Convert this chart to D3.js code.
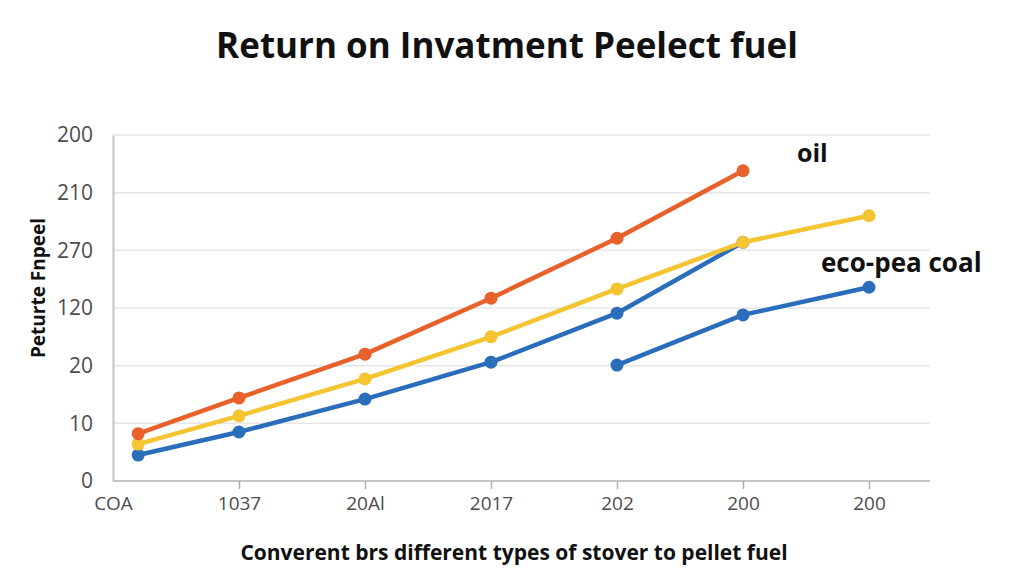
<!DOCTYPE html>
<html>
<head>
<meta charset="utf-8">
<script src="https://cdn.jsdelivr.net/npm/d3@7"></script>
<style>
  body { margin: 0; background: #fff; }
  svg { display: block; font-family: "Open Sans", "Noto Sans", sans-serif; }
</style>
</head>
<body>
<div id="chart"></div>
<script>
// tick labels as printed on the chart
var xLabels = ['COA', '1037', '20Al', '2017', '202', '200', '200'];
var yLabels = ['0', '10', '20', '120', '270', '210', '200'];

// x positions (category steps) and values in gridline units
var xSteps = [0.2, 1, 2, 3, 4, 5, 6];
var oilValues = [0.82, 1.44, 2.2, 3.17, 4.21, 5.38];
var pelletValues = [0.64, 1.13, 1.77, 2.5, 3.33, 4.14, 4.6];
var stoveValues = [0.45, 0.85, 1.42, 2.06, 2.91, 4.14];
var coalValues = [null, null, null, null, 2.01, 2.88, 3.36];

var width = 1024, height = 585;
var margin = { top: 135, right: 94, bottom: 104, left: 113 };

var svg = d3.select('#chart').append('svg')
    .attr('width', width)
    .attr('height', height);

var x = d3.scaleLinear().domain([0, 6]).range([margin.left, 869]);
var y = d3.scaleLinear().domain([0, 6]).range([height - margin.bottom, margin.top]);

// gridlines
svg.append('g')
    .selectAll('line')
    .data(d3.range(1, 7))
    .enter().append('line')
    .attr('x1', margin.left)
    .attr('x2', width - margin.right)
    .attr('y1', function(d) { return y(d); })
    .attr('y2', function(d) { return y(d); })
    .attr('stroke', '#e6e6e6')
    .attr('stroke-width', 1.5);

// y axis
var yAxis = d3.axisLeft(y)
    .tickValues(d3.range(0, 7))
    .tickSize(0)
    .tickPadding(20)
    .tickFormat(function(d) { return yLabels[d]; });
var gy = svg.append('g')
    .attr('transform', 'translate(' + margin.left + ',0)')
    .call(yAxis);
gy.select('.domain').attr('stroke', '#c4c4c4').attr('stroke-width', 2);
gy.selectAll('text')
    .attr('fill', '#4d4d4d')
    .style('font-size', '21px')
    .style('font-family', '"Open Sans", sans-serif');

// x axis
var xAxis = d3.axisBottom(x)
    .tickValues(d3.range(0, 7))
    .tickSize(8)
    .tickPadding(8)
    .tickFormat(function(d) { return xLabels[d]; });
var gx = svg.append('g')
    .attr('transform', 'translate(0,' + y(0) + ')')
    .call(xAxis);
gx.select('.domain')
    .attr('d', 'M' + margin.left + ',0H' + (width - margin.right))
    .attr('stroke', '#c4c4c4').attr('stroke-width', 2);
gx.selectAll('.tick line').attr('stroke', '#b0b0b0').attr('stroke-width', 1.5);
gx.selectAll('.tick').filter(function(d) { return d === 0; }).select('line').remove();
gx.selectAll('text')
    .attr('fill', '#4d4d4d')
    .style('font-size', '19px')
    .style('font-family', '"Open Sans", sans-serif');

// series
function drawSeries(values, color) {
    var pts = values.map(function(v, i) { return { x: xSteps[i], v: v }; })
        .filter(function(p) { return p.v !== null; });
    var line = d3.line()
        .x(function(p) { return x(p.x); })
        .y(function(p) { return y(p.v); });
    svg.append('path')
        .datum(pts)
        .attr('d', line)
        .attr('fill', 'none')
        .attr('stroke', color)
        .attr('stroke-width', 4.5)
        .attr('stroke-linejoin', 'round');
    svg.append('g')
        .selectAll('circle')
        .data(pts)
        .enter().append('circle')
        .attr('cx', function(p) { return x(p.x); })
        .attr('cy', function(p) { return y(p.v); })
        .attr('r', 6.5)
        .attr('fill', color);
}

drawSeries(stoveValues, '#2a6ebb');
drawSeries(coalValues, '#2a6ebb');
drawSeries(pelletValues, '#f4c431');
drawSeries(oilValues, '#e8602a');

// labels
svg.append('text')
    .attr('x', 797).attr('y', 162)
    .attr('font-size', '25px').attr('font-weight', 'bold')
    .attr('fill', '#111')
    .text('oil');
svg.append('text')
    .attr('x', 821).attr('y', 272)
    .attr('font-size', '26px').attr('font-weight', 'bold')
    .attr('fill', '#111')
    .text('eco-pea coal');

// title
svg.append('text')
    .attr('x', 507).attr('y', 58)
    .attr('text-anchor', 'middle')
    .attr('font-size', '35px').attr('font-weight', 'bold')
    .attr('fill', '#111')
    .text('Return on Invatment Peelect fuel');

// axis titles
svg.append('text')
    .attr('transform', 'translate(45,288) rotate(-90)')
    .attr('text-anchor', 'middle')
    .attr('font-size', '19px').attr('font-weight', 'bold')
    .attr('fill', '#111')
    .text('Peturte Fnpeel');
svg.append('text')
    .attr('x', 514).attr('y', 560)
    .attr('text-anchor', 'middle')
    .attr('font-size', '21px').attr('font-weight', 'bold')
    .attr('fill', '#111')
    .text('Converent brs different types of stover to pellet fuel');
</script>
</body>
</html>
